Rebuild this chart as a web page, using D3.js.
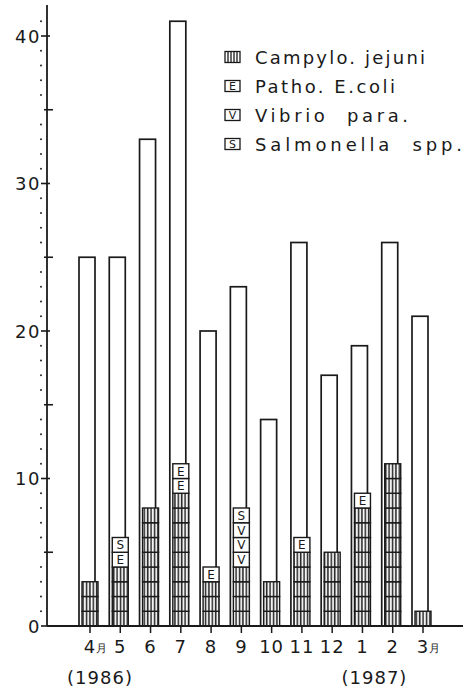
<!DOCTYPE html>
<html>
<head>
<meta charset="utf-8">
<script src="https://cdn.jsdelivr.net/npm/d3@7"></script>
<style>
  body { margin: 0; background: #fff; }
  text { font-family: "DejaVu Sans", sans-serif; fill: #1a1a1a; }
</style>
</head>
<body>
<script>
var months = ["4", "5", "6", "7", "8", "9", "10", "11", "12", "1", "2", "3"];
var totals = [25, 25, 33, 41, 20, 23, 14, 26, 17, 19, 26, 21];
var campylo = [3, 4, 8, 9, 3, 4, 3, 5, 5, 8, 11, 1];
var ecoli = [0, 1, 0, 2, 1, 0, 0, 1, 0, 1, 0, 0];
var vibrio = [0, 0, 0, 0, 0, 3, 0, 0, 0, 0, 0, 0];
var salmonella = [0, 1, 0, 0, 0, 1, 0, 0, 0, 0, 0, 0];
var yTicks = [0, 10, 20, 30, 40];
var legendLabels = ["Campylo. jejuni", "Patho. E.coli", "Vibrio  para.", "Salmonella  spp."];
var legendKeys = ["C", "E", "V", "S"];
var years = ["(1986)", "(1987)"];

var w = 473, h = 691;
var axisX = 47, zeroY = 626;
var barw = 16;
var ink = "#1a1a1a";
var legendTextW = [170, 140, 153, 207];

var svg = d3.select("body").append("svg")
    .attr("width", w)
    .attr("height", h);

var defs = svg.append("defs");
var pat = defs.append("pattern")
    .attr("id", "vhatch")
    .attr("patternUnits", "userSpaceOnUse")
    .attr("width", 3.4)
    .attr("height", 10);
pat.append("rect").attr("width", 3.4).attr("height", 10).attr("fill", "#fff");
pat.append("rect").attr("x", 0.7).attr("width", 1.6).attr("height", 10).attr("fill", "#2a2a2a");

var x = d3.scalePoint()
    .domain(months)
    .range([90, 423]);

var y = d3.scaleLinear()
    .domain([0, 40])
    .range([zeroY, 36]);

// y axis
svg.append("line")
    .attr("x1", axisX).attr("x2", axisX)
    .attr("y1", 5).attr("y2", zeroY)
    .attr("stroke", ink).attr("stroke-width", 1.8);

// dots at every unit
svg.selectAll(".dot")
    .data(d3.range(1, 42).filter(function(d) { return d % 5 != 0; }))
    .enter().append("circle")
    .attr("cx", 41)
    .attr("cy", function(d) { return y(d); })
    .attr("r", 1.1)
    .attr("fill", "#333");

svg.selectAll(".ytick")
    .data(yTicks)
    .enter().append("line")
    .attr("x1", 41).attr("x2", 50)
    .attr("y1", function(d) { return y(d); })
    .attr("y2", function(d) { return y(d); })
    .attr("stroke", ink).attr("stroke-width", 1.6);

svg.selectAll(".ymin")
    .data([5, 15, 25, 35])
    .enter().append("line")
    .attr("x1", 44).attr("x2", 53)
    .attr("y1", function(d) { return y(d); })
    .attr("y2", function(d) { return y(d); })
    .attr("stroke", ink).attr("stroke-width", 1.6);

svg.selectAll(".ylab")
    .data(yTicks)
    .enter().append("text")
    .attr("x", 41)
    .attr("y", function(d) { return y(d) + 6.5; })
    .attr("text-anchor", "end")
    .attr("font-size", 18)
    .attr("letter-spacing", 1.5)
    .text(function(d) { return d; });

// total bars
svg.selectAll(".total")
    .data(months)
    .enter().append("rect")
    .attr("x", function(d) { return x(d) - barw / 2 - 3; })
    .attr("y", function(d, i) { return y(totals[i]); })
    .attr("width", barw)
    .attr("height", function(d, i) { return zeroY - y(totals[i]); })
    .attr("fill", "#fff")
    .attr("stroke", ink)
    .attr("stroke-width", 1.7);

// one cell per detected case, stacked C, E, V, S
var cells = [];
months.forEach(function(m, i) {
  var level = 0;
  [[campylo, "C"], [ecoli, "E"], [vibrio, "V"], [salmonella, "S"]].forEach(function(s) {
    for (var k = 0; k < s[0][i]; k++) {
      cells.push({month: m, key: s[1], level: level});
      level++;
    }
  });
});

var cell = svg.selectAll(".cell")
    .data(cells)
    .enter().append("g");

cell.append("rect")
    .attr("x", function(d) { return x(d.month) - barw / 2; })
    .attr("y", function(d) { return y(d.level + 1); })
    .attr("width", barw)
    .attr("height", function(d) { return y(d.level) - y(d.level + 1); })
    .attr("fill", function(d) { return d.key == "C" ? "url(#vhatch)" : "#fff"; })
    .attr("stroke", ink)
    .attr("stroke-width", 1.4);

cell.filter(function(d) { return d.key != "C"; })
    .append("text")
    .attr("x", function(d) { return x(d.month); })
    .attr("y", function(d) { return y(d.level + 0.5) + 4.5; })
    .attr("text-anchor", "middle")
    .attr("font-size", 12)
    .text(function(d) { return d.key; });

// x axis
svg.append("line")
    .attr("x1", axisX).attr("x2", 463)
    .attr("y1", zeroY).attr("y2", zeroY)
    .attr("stroke", ink).attr("stroke-width", 1.8);

svg.selectAll(".xtick")
    .data(months)
    .enter().append("line")
    .attr("x1", function(d) { return x(d); })
    .attr("x2", function(d) { return x(d); })
    .attr("y1", zeroY).attr("y2", zeroY + 7)
    .attr("stroke", ink).attr("stroke-width", 1.5);

svg.selectAll(".xlab")
    .data(months)
    .enter().append("text")
    .attr("x", function(d) { return x(d); })
    .attr("y", 653)
    .attr("text-anchor", "middle")
    .attr("font-size", 18)
    .attr("letter-spacing", 1)
    .text(function(d) { return d; });

svg.selectAll(".tsuki")
    .data([months[0], months[months.length - 1]])
    .enter().append("text")
    .attr("x", function(d) { return x(d) + 6; })
    .attr("y", 652)
    .attr("font-size", 11)
    .attr("font-family", "Noto Sans CJK JP")
    .text("月");

svg.selectAll(".year")
    .data(years)
    .enter().append("text")
    .attr("x", function(d, i) { return i == 0 ? x("4") + 10 : x("1") + 12; })
    .attr("y", 684)
    .attr("text-anchor", "middle")
    .attr("font-size", 18)
    .attr("letter-spacing", 1)
    .text(function(d) { return d; });

// legend
var leg = svg.selectAll(".leg")
    .data(legendLabels)
    .enter().append("g")
    .attr("transform", function(d, i) { return "translate(225," + (57 + i * 29) + ")"; });

leg.append("rect")
    .attr("x", 0).attr("y", -5.5)
    .attr("width", 15).attr("height", 11)
    .attr("fill", "#fff")
    .attr("stroke", ink)
    .attr("stroke-width", 1.3);

leg.filter(function(d, i) { return i == 0; })
    .selectAll(".vl")
    .data([3, 6, 9, 12])
    .enter().append("line")
    .attr("x1", function(d) { return d; })
    .attr("x2", function(d) { return d; })
    .attr("y1", -5.5).attr("y2", 5.5)
    .attr("stroke", ink).attr("stroke-width", 1.3);

leg.filter(function(d, i) { return i > 0; })
    .append("text")
    .attr("x", 7.5).attr("y", 4)
    .attr("text-anchor", "middle")
    .attr("font-size", 11)
    .text(function(d) { return legendKeys[legendLabels.indexOf(d)]; });

leg.append("text")
    .attr("x", 30).attr("y", 6.5)
    .attr("font-size", 18)
    .attr("textLength", function(d, i) { return legendTextW[i]; })
    .attr("lengthAdjust", "spacing")
    .style("white-space", "pre")
    .text(function(d) { return d; });
</script>
</body>
</html>
